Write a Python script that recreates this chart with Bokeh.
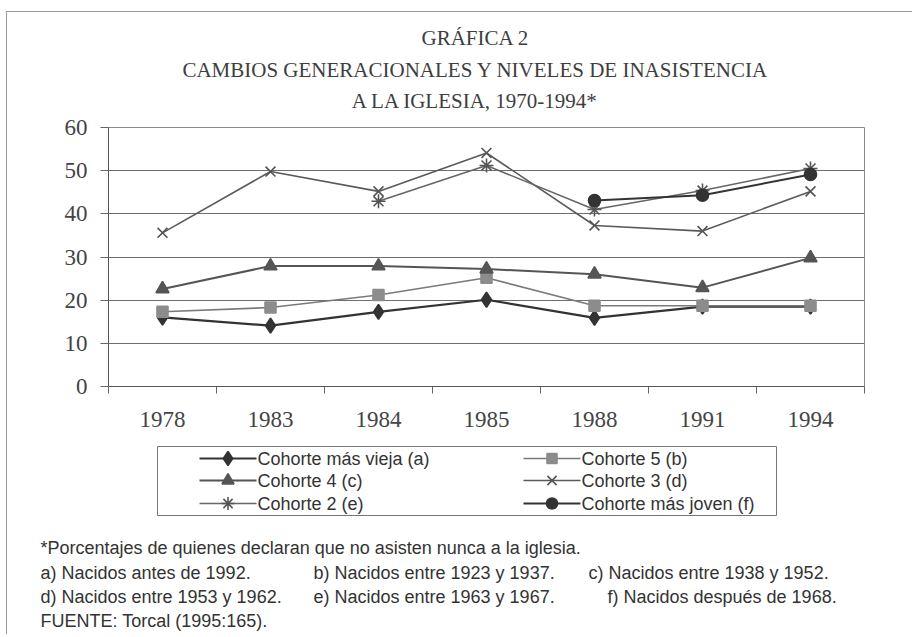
from bokeh.plotting import figure
from bokeh.models import FixedTicker, Range1d
from bokeh.embed import file_html
from bokeh.resources import INLINE
from bokeh.core.properties import value

# ---- data ----
years = ["1978", "1983", "1984", "1985", "1988", "1991", "1994"]
a_years = years
a_vals = [16.0, 14.1, 17.3, 20.1, 15.9, 18.5, 18.5]   # Cohorte más vieja (a)
b_years = years
b_vals = [17.3, 18.3, 21.2, 25.2, 18.7, 18.7, 18.7]   # Cohorte 5 (b)
c_years = years
c_vals = [22.6, 27.9, 27.9, 27.2, 26.0, 22.9, 29.8]   # Cohorte 4 (c)
d_years = years
d_vals = [35.6, 49.8, 45.2, 54.1, 37.3, 36.0, 45.2]   # Cohorte 3 (d)
e_years = ["1984", "1985", "1988", "1991", "1994"]
e_vals = [42.9, 51.2, 41.0, 45.4, 50.5]               # Cohorte 2 (e)
f_years = ["1988", "1991", "1994"]
f_vals = [43.1, 44.3, 49.1]                           # Cohorte más joven (f)
y_ticks = [0, 10, 20, 30, 40, 50, 60]

series_labels = ["Cohorte más vieja (a)", "Cohorte 5 (b)", "Cohorte 4  (c)",
                 "Cohorte 3 (d)", "Cohorte 2 (e)", "Cohorte más joven (f)"]

title_lines = ["GRÁFICA 2",
               "CAMBIOS GENERACIONALES Y NIVELES DE INASISTENCIA",
               "A LA IGLESIA, 1970-1994*"]

notes = [
    ["*Porcentajes de quienes declaran que no asisten nunca a la iglesia."],
    ["a) Nacidos antes de 1992.", "b) Nacidos entre 1923 y 1937.", "c) Nacidos entre 1938 y 1952."],
    ["d) Nacidos entre 1953 y 1962.", "e) Nacidos entre 1963 y 1967.", "f) Nacidos después de 1968."],
    ["FUENTE: Torcal (1995:165)."],
]


def xpos(ys):
    return [years.index(y) + 0.5 for y in ys]


SERIF = "Liberation Serif"
SANS = "Liberation Sans"
W = 906
BORDER = "1px solid #9a9a9a"


def blank(h):
    f = figure(width=W, height=h, x_range=Range1d(0, W), y_range=Range1d(h, 0),
               output_backend="svg", toolbar_location=None,
               x_axis_type=None, y_axis_type=None)
    f.min_border = 0
    f.min_border_left = 0
    f.min_border_right = 0
    f.min_border_top = 0
    f.min_border_bottom = 0
    f.grid.visible = False
    f.outline_line_color = None
    f.background_fill_color = "white"
    f.border_fill_color = "white"
    return f


# ---- title area ----
t = blank(105)
t.styles = {"border-top": BORDER, "border-left": BORDER,
            "margin-left": "6px", "margin-top": "11px"}
t.text(x=[468] * 3, y=[25, 57, 88], text=title_lines, text_align="center",
       text_baseline="middle", text_font=value(SERIF), text_font_size="21px",
       text_color="#3e3e3e")

# ---- main chart ----
p = figure(width=W, height=320, x_range=Range1d(0, len(years)), y_range=Range1d(0, 60),
           output_backend="svg", toolbar_location=None,
           min_border_left=101, min_border_right=49, min_border_top=11, min_border_bottom=50)
p.styles = {"border-left": BORDER, "margin-left": "6px"}
p.background_fill_color = "white"
p.border_fill_color = "white"
p.outline_line_color = "#8a8a8a"
p.outline_line_width = 1

p.xgrid.visible = False
p.ygrid.ticker = FixedTicker(ticks=y_ticks)
p.ygrid.grid_line_color = "#6e6e6e"
p.ygrid.grid_line_width = 1

p.yaxis.ticker = FixedTicker(ticks=y_ticks)
p.yaxis.major_tick_out = 8
p.yaxis.major_tick_in = 0
p.yaxis.minor_tick_line_color = None
p.yaxis.axis_line_color = "#555555"
p.yaxis.major_tick_line_color = "#666666"
p.yaxis.major_label_standoff = 13
p.yaxis.major_label_text_font = SERIF
p.yaxis.major_label_text_font_size = "23px"
p.yaxis.major_label_text_color = "#444444"

p.xaxis.ticker = FixedTicker(ticks=[i + 0.5 for i in range(len(years))],
                             minor_ticks=list(range(len(years) + 1)))
p.xaxis.major_label_overrides = {i + 0.5: y for i, y in enumerate(years)}
p.xaxis.major_tick_out = 0
p.xaxis.major_tick_in = 0
p.xaxis.minor_tick_out = 7
p.xaxis.minor_tick_in = 0
p.xaxis.minor_tick_line_color = "#666666"
p.xaxis.axis_line_color = "#555555"
p.xaxis.major_label_standoff = 18
p.xaxis.major_label_text_font = SERIF
p.xaxis.major_label_text_font_size = "23px"
p.xaxis.major_label_text_color = "#444444"

specs = [
    (a_years, a_vals, "diamond", 15, "#333333", "#333333", 2.2),
    (b_years, b_vals, "square", 11, "#8c8c8c", "#7a7a7a", 1.6),
    (c_years, c_vals, "triangle", 13, "#555555", "#555555", 2.0),
    (d_years, d_vals, "x", 14, "#555555", "#5a5a5a", 1.6),
    (e_years, e_vals, "asterisk", 14, "#555555", "#666666", 1.6),
    (f_years, f_vals, "circle", 12, "#333333", "#333333", 2.0),
]

for ys, vals, marker, size, mcol, lcol, lw in specs:
    xs = xpos(ys)
    p.line(xs, vals, line_color=lcol, line_width=lw)
    p.scatter(xs, vals, marker=marker, size=size, fill_color=mcol,
              line_color=mcol, line_width=1.6)

# ---- legend and footnotes ----
q = blank(198)
q.styles = {"border-left": BORDER, "margin-left": "6px"}
q.quad(left=[150], right=[769], top=[10], bottom=[79], fill_alpha=0,
       line_color="#777777", line_width=1)

leg_col_x = [192, 516]       # start of sample line per column
leg_row_y = [22, 44, 67]
sample_w = 57
for i, (spec, lab) in enumerate(zip(specs, series_labels)):
    _, _, marker, size, mcol, lcol, lw = spec
    cx = leg_col_x[i % 2]
    cy = leg_row_y[i // 2]
    q.line([cx, cx + sample_w], [cy, cy], line_color=lcol, line_width=lw)
    q.scatter([cx + sample_w / 2], [cy], marker=marker, size=size - 1,
              fill_color=mcol, line_color=mcol, line_width=1.6)
    q.text(x=[cx + sample_w + 1], y=[cy], text=[lab], text_align="left",
           text_baseline="middle", text_font=value(SANS), text_font_size="18px",
           text_color="#333333")

note_cols = [[33], [33, 306, 581], [33, 306, 600], [33]]
note_rows = [111, 136, 160, 184]
for r, line in enumerate(notes):
    q.text(x=note_cols[r], y=[note_rows[r]] * len(line), text=line,
           text_align="left", text_baseline="middle", text_font=value(SANS),
           text_font_size="18px", text_color="#333333")

open("out.html", "w").write(file_html([t, p, q], INLINE))
